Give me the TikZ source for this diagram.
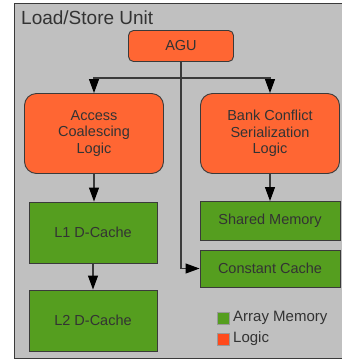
\documentclass[tikz,border=0pt]{standalone}
\usepackage{fontspec}
\setmainfont{Liberation Sans}
\usetikzlibrary{arrows.meta}
\definecolor{bggray}{HTML}{C0C0C0}
\definecolor{logicor}{HTML}{FF6633}
\definecolor{memgreen}{HTML}{559E1F}
\definecolor{legred}{HTML}{FF4A1C}
\definecolor{txt}{HTML}{333333}
\definecolor{edge}{HTML}{3A3A3A}
\tikzset{
  logicbox/.style={draw=edge, line width=0.9pt, fill=logicor, rounded corners=12pt, text=txt,
    font=\fontsize{14.5}{16.7}\selectfont, align=center, inner sep=0pt},
  membox/.style={draw=edge, line width=0.9pt, fill=memgreen, text=txt,
    font=\fontsize{14.5}{16.7}\selectfont, align=center, inner sep=0pt},
  conn/.style={draw=edge, line width=1.1pt},
  arr/.style={conn, -{Triangle[width=10pt,length=14pt,fill=black,color=black]}},
  legsq/.style={draw=gray!80, line width=0.6pt, minimum size=12pt, inner sep=0pt},
  legtxt/.style={text=txt, font=\fontsize{15}{17}\selectfont, anchor=west, inner sep=0pt}
}
\begin{document}
\begin{tikzpicture}[x=1pt,y=-1pt]
\useasboundingbox (0,0) rectangle (342,360);
\draw[fill=bggray, draw=edge, line width=0.9pt] (14,3) rectangle (345,358);
\node[text=txt, font=\fontsize{19}{22}\selectfont, anchor=west, inner sep=0pt] (title) at (21,18) {Load/Store Unit};

\node[logicbox, rounded corners=5pt, minimum width=105pt, minimum height=31pt] (agu) at (181,46) {AGU};
\node[logicbox, minimum width=139pt, minimum height=80pt] (acl) at (94,133.5) {Access\\Coalescing\\Logic};
\node[logicbox, minimum width=139pt, minimum height=80pt] (bcl) at (270,133.5) {Bank Conflict\\Serialization\\Logic};

\node[membox, minimum width=128pt, minimum height=61pt] (l1) at (93,232.5) {L1 D-Cache};
\node[membox, minimum width=128pt, minimum height=61pt] (l2) at (93,320.5) {L2 D-Cache};
\node[membox, minimum width=140pt, minimum height=39pt] (sm) at (270,221) {Shared Memory};
\node[membox, minimum width=140pt, minimum height=37pt] (cc) at (270,268.5) {Constant Cache};

\coordinate (br) at (181,78);
\draw[conn] (agu.south) -- (br);
\draw[arr] (br) -| (acl.north);
\draw[arr] (br) -| (bcl.north);
\draw[arr] (agu.south) |- (cc.west);
\draw[arr] (acl.south) -- (acl.south |- l1.north);
\draw[arr] (bcl.south) -- (bcl.south |- sm.north);
\draw[arr] (l1.south) -- (l2.north);

\node[legsq, fill=memgreen] (lg1) at (223.3,318.3) {};
\node[legsq, fill=legred] (lg2) at (223.3,339) {};
\node[legtxt] (lt1) at (233,318.3) {Array Memory};
\node[legtxt] (lt2) at (233,339) {Logic};
\end{tikzpicture}
\end{document}
